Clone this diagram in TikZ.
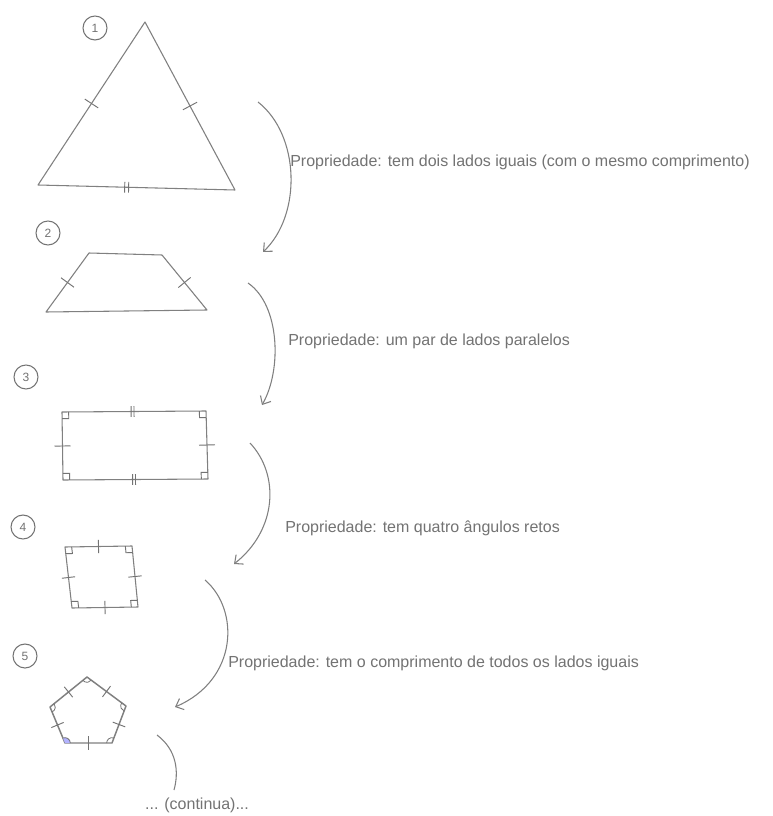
\documentclass[tikz,border=0pt]{standalone}
\usepackage{fontspec}
\setmainfont{Liberation Sans}
\usetikzlibrary{arrows.meta,calc,angles}

\begin{document}
\begin{tikzpicture}[x=0.75pt, y=-0.75pt, every node/.style={font=\fontsize{12}{14}\selectfont, text=black!55}]
\tikzset{pen/.style={draw=black!50, line width=0.8pt, line join=round}}
\tikzset{num/.style={draw=black!55, circle, line width=0.8pt, minimum size=18pt, inner sep=0pt, font=\small}}
\tikzset{prop/.style={anchor=west, inner sep=0pt}}
\tikzset{curvearrow/.style={draw=black!50, line width=0.8pt, -{Straight Barb[length=5pt, width=9pt]}}}
\tikzset{tick/.style={draw=black!55, line width=0.7pt}}
\tikzset{ang/.style={draw=black!55, line width=0.6pt, angle radius=4pt}}
\useasboundingbox[fill=white] (0,0) rectangle (772,816);

% 1: triangle
\node[num] (n1) at (95,28) {1};
\coordinate (t1) at (38,185);
\coordinate (t2) at (235,190);
\coordinate (t3) at (145,22);
\draw[pen] (t1) -- (t2) -- (t3) -- cycle;
\foreach \a/\b in {t1/t3, t2/t3}
  \draw[tick] ($(\a)!0.5!(\b)!6pt!90:(\b)$) -- ($(\a)!0.5!(\b)!6pt!-90:(\b)$);
\foreach \t in {0.44,0.46}
  \draw[tick] ($(t1)!\t!(t2)!4pt!90:(t2)$) -- ($(t1)!\t!(t2)!4pt!-90:(t2)$);

% 2: trapezium
\node[num] (n2) at (48,233) {2};
\coordinate (z1) at (46,312);
\coordinate (z2) at (207,310);
\coordinate (z3) at (162,255);
\coordinate (z4) at (89,253);
\draw[pen] (z1) -- (z2) -- (z3) -- (z4) -- cycle;
\foreach \a/\b in {z1/z4, z2/z3}
  \draw[tick] ($(\a)!0.5!(\b)!6pt!90:(\b)$) -- ($(\a)!0.5!(\b)!6pt!-90:(\b)$);

% 3: rectangle
\node[num] (n3) at (26,377) {3};
\coordinate (r1) at (62,412);
\coordinate (r2) at (206,411);
\coordinate (r3) at (208,479);
\coordinate (r4) at (63,480);
\draw[pen] (r1) -- (r2) -- (r3) -- (r4) -- cycle;
\foreach \a/\b in {r4/r1, r3/r2}
  \draw[tick] ($(\a)!0.5!(\b)!6pt!90:(\b)$) -- ($(\a)!0.5!(\b)!6pt!-90:(\b)$);
\foreach \a/\b in {r1/r2, r4/r3}
  \foreach \t in {0.48,0.5}
    \draw[tick] ($(\a)!\t!(\b)!4pt!90:(\b)$) -- ($(\a)!\t!(\b)!4pt!-90:(\b)$);
\foreach \p/\c/\q in {r4/r1/r2, r1/r2/r3, r2/r3/r4, r3/r4/r1}
  \draw[tick] ($(\c)!5pt!(\p)$) -- ($(\c)!5pt!(\p) + (\c)!5pt!(\q) - (\c)$) -- ($(\c)!5pt!(\q)$);

% 4: square
\node[num] (n4) at (23,527) {4};
\coordinate (s1) at (65,547);
\coordinate (s2) at (132,546);
\coordinate (s3) at (138,607);
\coordinate (s4) at (72,608);
\draw[pen] (s1) -- (s2) -- (s3) -- (s4) -- cycle;
\foreach \a/\b in {s1/s2, s2/s3, s3/s4, s4/s1}
  \draw[tick] ($(\a)!0.5!(\b)!5pt!90:(\b)$) -- ($(\a)!0.5!(\b)!5pt!-90:(\b)$);
\foreach \p/\c/\q in {s4/s1/s2, s1/s2/s3, s2/s3/s4, s3/s4/s1}
  \draw[tick] ($(\c)!5pt!(\p)$) -- ($(\c)!5pt!(\p) + (\c)!5pt!(\q) - (\c)$) -- ($(\c)!5pt!(\q)$);

% 5: pentagon
\node[num] (n5) at (25,656) {5};
\coordinate (p1) at (87,677);
\coordinate (p2) at (126,706);
\coordinate (p3) at (112,743);
\coordinate (p4) at (65,743);
\coordinate (p5) at (50,707);
\draw[pen, line width=1.1pt] (p1) -- (p2) -- (p3) -- (p4) -- (p5) -- cycle;
\foreach \a/\b in {p1/p2, p2/p3, p3/p4, p4/p5, p5/p1}
  \draw[tick] ($(\a)!0.5!(\b)!5pt!90:(\b)$) -- ($(\a)!0.5!(\b)!5pt!-90:(\b)$);
\foreach \p/\c/\q in {p5/p1/p2, p1/p2/p3, p2/p3/p4, p4/p5/p1}
  \pic[ang] {angle=\p--\c--\q};
\pic[ang, fill=blue!30] {angle=p3--p4--p5};

% connectors
\coordinate (a1s) at (258,102);
\coordinate (a1e) at (263,252);
\coordinate (a2s) at (248,283);
\coordinate (a2e) at (262,405);
\coordinate (a3s) at (250,443);
\coordinate (a3e) at (234,564);
\coordinate (a4s) at (205,580);
\coordinate (a4e) at (175,707);
\coordinate (a5s) at (157,735);
\coordinate (a5e) at (174,790);
\draw[curvearrow] (a1s) .. controls (300,135) and (302,215) .. (a1e);
\draw[curvearrow] (a2s) .. controls (280,305) and (282,370) .. (a2e);
\draw[curvearrow] (a3s) .. controls (280,475) and (277,530) .. (a3e);
\draw[curvearrow] (a4s) .. controls (240,610) and (238,680) .. (a4e);
\draw[pen] (a5s) .. controls (177,750) and (179,772) .. (a5e);

% properties
\node[prop] (q1) at (290,162) {Propriedade: tem dois lados iguais (com o mesmo comprimento)};
\node[prop] (q2) at (288,341) {Propriedade: um par de lados paralelos};
\node[prop] (q3) at (285,528) {Propriedade: tem quatro ângulos retos};
\node[prop] (q4) at (228,663) {Propriedade: tem o comprimento de todos os lados iguais};
\node (cont) at (197,805) {... (continua)...};
\end{tikzpicture}
\end{document}
